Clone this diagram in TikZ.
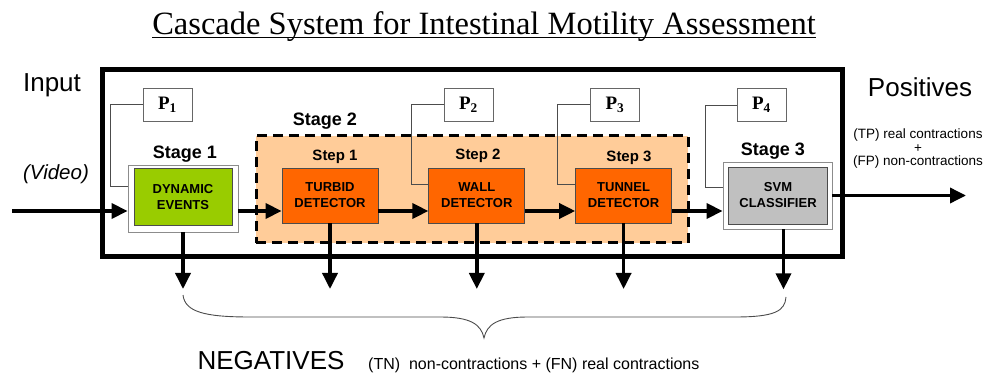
\documentclass[tikz,border=0pt]{standalone}
\usepackage{fontspec}
\setmainfont{Liberation Sans}
\newfontfamily\timesfont{Liberation Serif}
\usetikzlibrary{arrows.meta,positioning}
\definecolor{eventgreen}{HTML}{99CC00}
\definecolor{detectorange}{HTML}{FF6600}
\definecolor{stagepeach}{HTML}{FFCC99}
\definecolor{svmgray}{HTML}{C0C0C0}
\tikzset{
  stageframe/.style={
    draw=black!45,fill=white,line width=0.8pt,
    minimum width=110pt,minimum height=67pt
  },
  core/.style={
    draw=black!70,line width=0.8pt,align=center,
    minimum width=98pt,minimum height=57pt,
    font=\fontsize{13}{16}\selectfont\bfseries
  },
  detector/.style={core,fill=detectorange,minimum width=96pt,minimum height=55pt},
  param/.style={
    draw=black!60,fill=white,line width=0.8pt,
    minimum width=49pt,minimum height=33pt,
    font=\timesfont\fontsize{19}{19}\selectfont\bfseries
  },
  stagelabel/.style={font=\fontsize{18}{18}\selectfont\bfseries},
  steplabel/.style={font=\fontsize{15}{15}\selectfont\bfseries},
  flow/.style={-{Triangle[length=16pt,width=15pt]},line width=3.5pt},
  link/.style={draw=black!70,line width=0.8pt}
}

\begin{document}
\begin{tikzpicture}[x=1pt,y=-1pt]
\useasboundingbox (0,0) rectangle (986,374);

\node[anchor=base,inner sep=0pt,font=\timesfont\fontsize{32.5}{34}\selectfont] (title) at (484,35)
  {Cascade System for Intestinal Motility Assessment};
\draw[line width=1.3pt] ([yshift=-2.5pt]title.base west) -- ([yshift=-2.5pt]title.base east);

% outer system and stage 2 region
\node[draw,line width=5pt,minimum width=740pt,minimum height=187pt] (system) at (472,163.5) {};
\node[draw,fill=stagepeach,line width=3pt,dash pattern=on 10pt off 6pt,
  minimum width=432pt,minimum height=107pt] (stage2) at (472,189.5) {};

\node[param] (p1) at (167.5,104.5) {P\textsubscript{1}};
\node[param] (p2) at (468.5,104.5) {P\textsubscript{2}};
\node[param] (p3) at (615,104.5) {P\textsubscript{3}};
\node[param] (p4) at (761.5,105) {P\textsubscript{4}};

\node[stageframe] (frame1) at (183,198.5) {};
\node[core,fill=eventgreen] (dynamic) at (183,197) {DYNAMIC\\EVENTS};

\node[detector] (turbid) at (330,195.5) {TURBID\\DETECTOR};
\node[detector,right=50pt of turbid] (wall) {WALL\\DETECTOR};
\node[detector,right=50pt of wall] (tunnel) {TUNNEL\\DETECTOR};

\node[stageframe,minimum width=109pt] (frame3) at (777.5,195.5) {};
\node[core,fill=svmgray,minimum width=99pt] (svm) at (778,195.5) {SVM\\CLASSIFIER};

\node[stagelabel] (stage1lbl) at (185,154) {Stage 1};
\node[stagelabel] (stage2lbl) at (325,121) {Stage 2};
\node[stagelabel] (stage3lbl) at (773,151) {Stage 3};
\node[steplabel] (step1lbl) at (335,157) {Step 1};
\node[steplabel] (step2lbl) at (478,156) {Step 2};
\node[steplabel] (step3lbl) at (629,158) {Step 3};

% parameter links
\draw[link] (p1.west) -- ++(-32,0) |- ([yshift=12pt]frame1.west);
\draw[link] (p2.west) -- ++(-32,0) |- ([yshift=11pt]wall.west);
\draw[link] (p3.west) -- ++(-33,0) |- ([yshift=11pt]tunnel.west);
\draw[link] (p4.west) -- ++(-31,0) |- ([yshift=8.5pt]frame3.west);

\node[anchor=base,font=\fontsize{26}{26}\selectfont] (input) at (52,92) {Input};
\node[anchor=base,font=\fontsize{20.5}{20.5}\selectfont\itshape] (video) at (56,180) {(Video)};
\node[anchor=base,font=\fontsize{26}{26}\selectfont] (positives) at (920,97) {Positives};
\node[align=center,font=\fontsize{13.5}{13.5}\selectfont] (tpfp) at (918,149)
  {(TP) real contractions\\+\\(FP) non-contractions};

\coordinate (in) at (12,211);
\coordinate (out) at (966,195.5);
\coordinate (tips) at (0,289);

% main flow
\draw[flow] (in) -- (in -| frame1.west);
\draw[flow] (frame1.east |- in) -- (turbid.west |- in);
\draw[flow] (turbid.east |- in) -- (wall.west |- in);
\draw[flow] (wall.east |- in) -- (tunnel.west |- in);
\draw[flow] (tunnel.east |- in) -- (frame3.west |- in);
\draw[flow] (frame3.east) -- (out);

% rejected outputs
\foreach \n in {frame1,turbid,wall,tunnel}
  \draw[flow] (\n.south) -- (\n.south |- tips);
\draw[flow] ([xshift=6pt]frame3.south) -- ++(0,60);

\draw[black!70,line width=0.9pt] (183,295) .. controls (185,312) and (205,317) .. (250,317)
  -- (440,317) .. controls (470,317) and (481,324) .. (484,338)
  .. controls (487,324) and (498,317) .. (528,317)
  -- (735,317) .. controls (775,317) and (785,311) .. (786,297);

\node[anchor=base,font=\fontsize{26}{26}\selectfont] (negatives) at (271,370) {NEGATIVES};
\node[anchor=base west,inner sep=0pt,font=\fontsize{16}{16}\selectfont] (tnfn) at (368,370)
  {(TN)\ \ non-contractions + (FN) real contractions};

\end{tikzpicture}
\end{document}
